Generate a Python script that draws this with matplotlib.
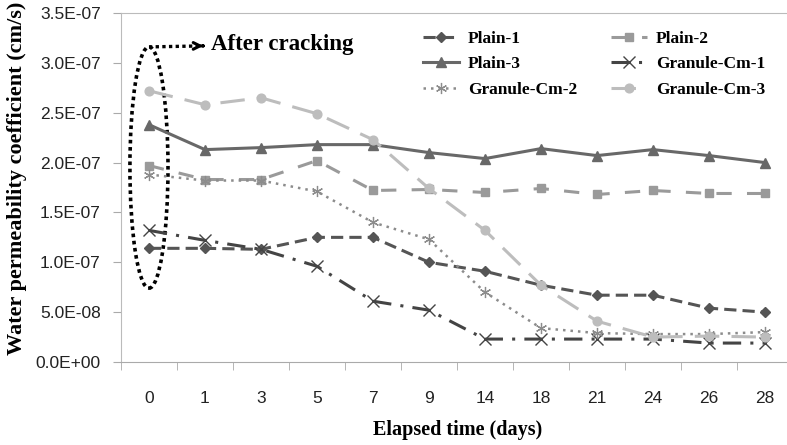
import matplotlib
matplotlib.use('Agg')
import matplotlib.pyplot as plt
from matplotlib.patches import Ellipse
from matplotlib.ticker import FixedLocator

days = ['0', '1', '3', '5', '7', '9', '14', '18', '21', '24', '26', '28']

plain_1 = [1.14e-7, 1.14e-7, 1.13e-7, 1.25e-7, 1.25e-7, 1.00e-7, 0.91e-7, 0.77e-7, 0.67e-7, 0.67e-7, 0.54e-7, 0.50e-7]
plain_2 = [1.97e-7, 1.83e-7, 1.83e-7, 2.02e-7, 1.72e-7, 1.73e-7, 1.70e-7, 1.74e-7, 1.68e-7, 1.72e-7, 1.69e-7, 1.69e-7]
plain_3 = [2.38e-7, 2.13e-7, 2.15e-7, 2.18e-7, 2.18e-7, 2.10e-7, 2.04e-7, 2.14e-7, 2.07e-7, 2.13e-7, 2.07e-7, 2.00e-7]
granule_cm_1 = [1.32e-7, 1.22e-7, 1.13e-7, 0.96e-7, 0.61e-7, 0.52e-7, 0.23e-7, 0.23e-7, 0.23e-7, 0.23e-7, 0.19e-7, 0.19e-7]
granule_cm_2 = [1.88e-7, 1.82e-7, 1.82e-7, 1.71e-7, 1.40e-7, 1.23e-7, 0.70e-7, 0.34e-7, 0.29e-7, 0.28e-7, 0.28e-7, 0.30e-7]
granule_cm_3 = [2.72e-7, 2.58e-7, 2.65e-7, 2.49e-7, 2.23e-7, 1.74e-7, 1.32e-7, 0.77e-7, 0.41e-7, 0.25e-7, 0.26e-7, 0.25e-7]

y_ticks = [0, 0.5e-7, 1.0e-7, 1.5e-7, 2.0e-7, 2.5e-7, 3.0e-7, 3.5e-7]
y_labels = ['0.0E+00', '5.0E-08', '1.0E-07', '1.5E-07', '2.0E-07', '2.5E-07', '3.0E-07', '3.5E-07']

fig = plt.figure(figsize=(7.87, 4.45), dpi=100)
ax = fig.add_axes([0.1537, 0.1865, 0.8539, 0.7843])

x = range(len(days))

l1, = ax.plot(x, plain_1, color='#555555', lw=2.2, ls=(0, (4, 2)), marker='D', ms=5.5, label='Plain-1')
l2, = ax.plot(x, plain_2, color='#9a9a9a', lw=2.2, ls=(0, (5, 5)), marker='s', ms=6.3, label='Plain-2')
l3, = ax.plot(x, plain_3, color='#686868', lw=2.2, ls='-', marker='^', ms=7, label='Plain-3')
l4, = ax.plot(x, granule_cm_1, color='#444444', lw=2.2, ls=(0, (6, 3, 1, 3)), marker='x', ms=8,
              mew=1, label='Granule-Cm-1')
l5, = ax.plot(x, granule_cm_2, color='#8c8c8c', lw=1.8, ls=(0, (1, 2)), marker=(6, 2, 0), ms=8,
              mew=0.9, label='Granule-Cm-2')
l6, = ax.plot(x, granule_cm_3, color='#bdbdbd', lw=2.2, ls=(0, (8, 4)), marker='o', ms=6.3,
              label='Granule-Cm-3')

ax.set_xlim(-0.5, len(days) - 0.5)
ax.set_ylim(0, 3.5e-7)

ax.set_xticks(list(x))
ax.set_xticklabels(days, fontsize=12.5, color='#222222', family='Liberation Sans')
ax.xaxis.set_minor_locator(FixedLocator([i - 0.5 for i in range(len(days) + 1)]))
ax.tick_params(axis='x', which='major', length=0, pad=21)
ax.tick_params(axis='x', which='minor', length=6, color='#aaaaaa', direction='out')

ax.set_yticks(y_ticks)
ax.set_yticklabels(y_labels, fontsize=12.5, color='#222222', family='Liberation Sans')
ax.tick_params(axis='y', length=6, color='#aaaaaa', direction='out', pad=8.5)

ax.spines['right'].set_visible(False)
ax.spines['left'].set_color('#bbbbbb')
ax.spines['bottom'].set_color('#aaaaaa')
ax.spines['top'].set_color('#bbbbbb')

ax.set_ylabel('Water permeability coefficient (cm/s)', fontsize=16, fontweight='bold',
              family='Liberation Serif')
ax.yaxis.set_label_coords(-0.14, 0.525)
ax.set_xlabel('Elapsed time (days)', fontsize=14.5, fontweight='bold', family='Liberation Serif')
ax.xaxis.set_label_coords((458 - 121) / 672.0, -0.165)

# dotted ellipse round day 0 with its pointer
ell = Ellipse((0, 1.95e-7), 0.68, 2.42e-7, fill=False, ls=(0, (1, 1)), lw=2.6, color='black')
ax.add_patch(ell)
ax.plot([0, 0.97], [3.16e-7, 3.17e-7], color='black', ls=(0, (1, 1)), lw=2.4)
ax.annotate('', xy=(1.02, 3.17e-7), xytext=(0.92, 3.17e-7),
            arrowprops=dict(arrowstyle='->', lw=2.2, color='black', mutation_scale=12))
ax.text(1.1, 3.18e-7, 'After cracking', fontsize=16.5, fontweight='bold', family='Liberation Serif',
        va='center')

leg = ax.legend([l1, l3, l5, l2, l4, l6], ['Plain-1', 'Plain-3', 'Granule-Cm-2', 'Plain-2', 'Granule-Cm-1',
                                           'Granule-Cm-3'],
                ncol=2, loc='upper left', bbox_to_anchor=(0.449, 0.950), frameon=False,
                borderaxespad=0, borderpad=0,
                prop={'family': 'Liberation Serif', 'weight': 'bold', 'size': 12.5}, handlelength=2.1,
                columnspacing=1.95, labelspacing=0.56, handletextpad=0.5)

fig.savefig('out.png', dpi=100)
